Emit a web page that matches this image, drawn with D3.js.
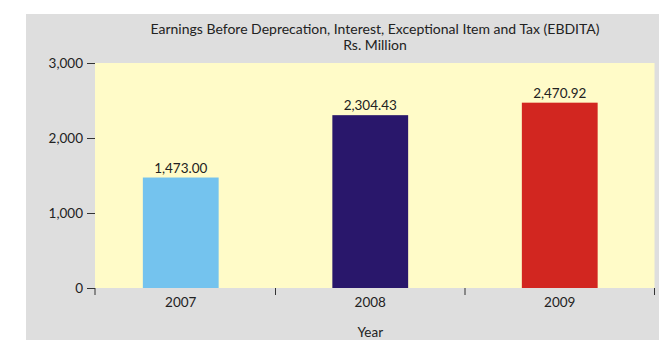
<!DOCTYPE html>
<html><head><meta charset="utf-8">
<script src="https://cdn.jsdelivr.net/npm/d3@7"></script>
<style>
html,body{margin:0;padding:0;background:#fff;}
svg{display:block;font-family:Lato,"Open Sans",sans-serif;}
</style></head>
<body>
<svg id="chart" width="659" height="340"></svg>
<script>
const years = ["2007", "2008", "2009"];
const values = [1473.00, 2304.43, 2470.92];
const valueLabels = ["1,473.00", "2,304.43", "2,470.92"];
const barColors = ["#74c3ee", "#29176b", "#d22620"];
const yTicks = [0, 1000, 2000, 3000];
const titleLines = ["Earnings Before Deprecation, Interest, Exceptional Item and Tax (EBDITA)", "Rs. Million"];
const xTitle = "Year";

const svg = d3.select("#chart");
const plot = {left: 95, right: 654.5, top: 63, bottom: 288};
const fs = 13.5;

svg.append("rect").attr("x", 26).attr("y", 14).attr("width", 659 - 26).attr("height", 340 - 14).attr("fill", "#dedede");
svg.append("rect").attr("x", plot.left).attr("y", plot.top)
  .attr("width", plot.right - plot.left).attr("height", plot.bottom - plot.top).attr("fill", "#fffbc8");

const y = d3.scaleLinear().domain([0, 3000]).range([plot.bottom, plot.top]);
const x = d3.scaleBand().domain(years).range([86, plot.right]).paddingInner(0).paddingOuter(0);

const barW = x.bandwidth() * 0.4;
svg.selectAll("rect.bar").data(years).enter().append("rect").attr("class", "bar")
  .attr("x", (d) => x(d) + x.bandwidth() / 2 - barW / 2)
  .attr("y", (d, i) => y(values[i]))
  .attr("width", barW)
  .attr("height", (d, i) => plot.bottom - y(values[i]))
  .attr("fill", (d, i) => barColors[i]);

svg.selectAll("text.val").data(years).enter().append("text").attr("class", "val")
  .attr("x", (d) => x(d) + x.bandwidth() / 2)
  .attr("y", (d, i) => y(values[i]) - 5)
  .attr("text-anchor", "middle").attr("font-size", fs).attr("fill", "#222")
  .text((d, i) => valueLabels[i]);

// y axis
const yAxis = d3.axisLeft(y).tickValues(yTicks).tickSize(8).tickPadding(4)
  .tickFormat(d3.format(","));
const gy = svg.append("g").attr("transform", `translate(${plot.left},0)`).call(yAxis);
gy.select(".domain").remove();
gy.selectAll("text").attr("font-size", fs).attr("fill", "#222").attr("font-family", "Lato,'Open Sans',sans-serif");
gy.selectAll("line").attr("stroke", "#333");

// x axis ticks at band boundaries
const boundaries = years.slice(1).map((d) => x(d)).concat([plot.left, plot.right]);
svg.selectAll("line.xt").data(boundaries).enter().append("line").attr("class", "xt")
  .attr("x1", (d) => d).attr("x2", (d) => d)
  .attr("y1", plot.bottom).attr("y2", plot.bottom + 7)
  .attr("stroke", "#333").attr("stroke-width", 1);

svg.selectAll("text.xl").data(years).enter().append("text").attr("class", "xl")
  .attr("x", (d) => x(d) + x.bandwidth() / 2)
  .attr("y", 307)
  .attr("text-anchor", "middle").attr("font-size", fs).attr("fill", "#222")
  .text((d) => d);

svg.append("text").attr("x", x("2008") + x.bandwidth() / 2).attr("y", 337)
  .attr("text-anchor", "middle").attr("font-size", fs).attr("fill", "#222").text(xTitle);

svg.selectAll("text.title").data(titleLines).enter().append("text").attr("class", "title")
  .attr("x", 375).attr("y", (d, i) => 34 + i * 16)
  .attr("text-anchor", "middle").attr("font-size", 14).attr("fill", "#222")
  .text((d) => d);
</script>
</body></html>
